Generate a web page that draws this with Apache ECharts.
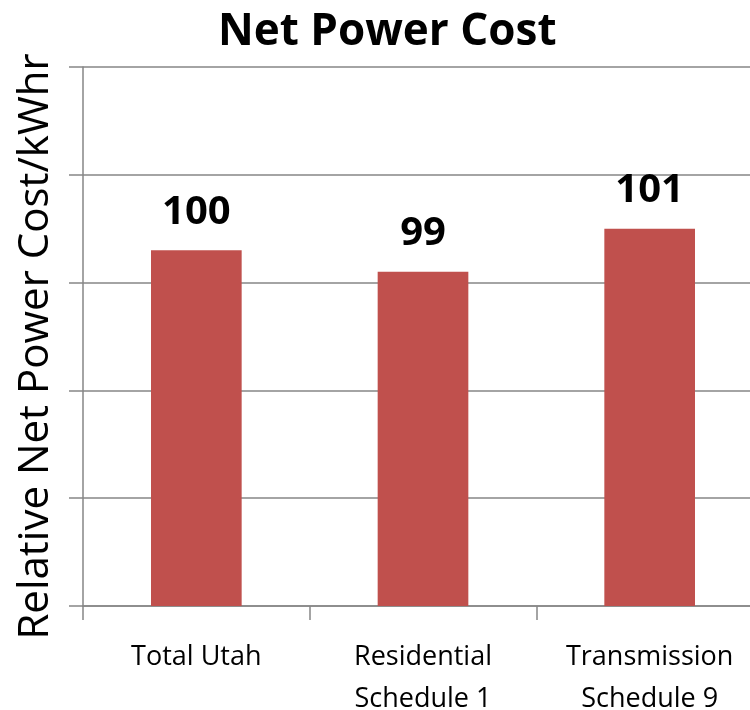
<!DOCTYPE html>
<html><head><meta charset="utf-8">
<script src="https://cdn.jsdelivr.net/npm/echarts@6/dist/echarts.min.js"></script>
<style>html,body{margin:0;padding:0;background:#fff}#c{width:750px;height:710px}</style>
</head><body><div id="c"></div>
<script>
const categories = ['Total Utah', 'Residential\nSchedule 1', 'Transmission\nSchedule 9'];
const values = [100, 99, 101];
const titleText = 'Net Power Cost';
const yAxisName = 'Relative Net Power Cost/kWhr';

const chart = echarts.init(document.getElementById('c'));
const F = '"Open Sans", Calibri, sans-serif';
chart.setOption({
  animation: false,
  title: {
    text: titleText, left: 213, top: 5,
    textStyle: { fontFamily: F, fontSize: 44, fontWeight: 'bold', color: '#000' }
  },
  grid: { left: 83, right: -13, top: 67, bottom: 104, outerBoundsMode: 'none', containLabel: false },
  xAxis: {
    type: 'category', data: categories,
    axisLine: { lineStyle: { color: '#868686', width: 1.5 } },
    axisTick: { show: true, length: 14, lineStyle: { color: '#868686', width: 1.5 } },
    axisLabel: { fontFamily: F, fontSize: 27, color: '#000', margin: 30, lineHeight: 42, interval: 0 }
  },
  yAxis: {
    type: 'value', min: 83.5, max: 108.5, interval: 5,
    name: yAxisName, nameLocation: 'middle', nameGap: 26,
    nameTextStyle: { fontFamily: F, fontSize: 42, color: '#000', padding: [0, 20, 0, 0] },
    axisLabel: { show: false },
    axisLine: { show: true, lineStyle: { color: '#868686', width: 1.5 } },
    axisTick: { show: true, length: 14, lineStyle: { color: '#868686', width: 1.5 } },
    splitLine: { lineStyle: { color: '#868686', width: 1.5 } }
  },
  series: [{
    type: 'bar', data: values, barWidth: '40%',
    itemStyle: { color: '#C0504D' },
    label: { show: true, position: 'top', distance: 18, fontFamily: F, fontSize: 40, fontWeight: 'bold', color: '#000' }
  }]
});
</script></body></html>
